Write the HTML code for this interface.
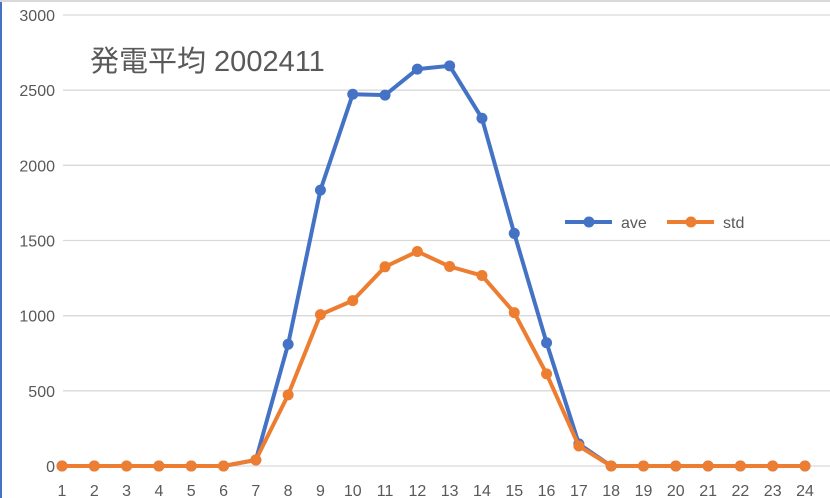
<!DOCTYPE html>
<html><head><meta charset="utf-8"><style>
html,body{margin:0;padding:0;background:#fff;}
svg{display:block;font-family:"Liberation Sans","Noto Sans CJK JP",sans-serif;}
</style></head><body>
<svg id="c" width="830" height="498">
<rect x="0" y="0" width="830" height="498" fill="#fff"/>
<rect x="0" y="0" width="2" height="498" fill="#4472c4"/>
<rect x="0" y="0" width="830" height="2" fill="#d9d9d9"/>
<text x="90" y="71" font-size="29" fill="#595959">発電平均 2002411</text>
<g id="grid"></g><g id="series"></g>
<g>
<line x1="565" y1="222" x2="612" y2="222" stroke="#4472c4" stroke-width="4"/>
<circle cx="589" cy="222" r="5.5" fill="#4472c4"/>
<text x="621" y="228" font-size="16" fill="#595959">ave</text>
<line x1="667" y1="222" x2="714" y2="222" stroke="#ed7d31" stroke-width="4"/>
<circle cx="691" cy="222" r="5.5" fill="#ed7d31"/>
<text x="723" y="228" font-size="16" fill="#595959">std</text>
</g>
</svg>
<script>
const categories=[1,2,3,4,5,6,7,8,9,10,11,12,13,14,15,16,17,18,19,20,21,22,23,24];
const aveValues=[0,0,0,0,0,0,40,810,1835,2473,2467,2640,2662,2313,1547,820,147,0,0,0,0,0,0,0];
const stdValues=[0,0,0,0,0,0,40,473,1007,1100,1325,1427,1327,1267,1020,613,133,0,0,0,0,0,0,0];
const yTicks=[0,500,1000,1500,2000,2500,3000];
const NS="http://www.w3.org/2000/svg";
function X(i){return 62+i*(805-62)/23;}
function Y(v){return 466-v*(451/3000);}
function mk(t,a,p){const e=document.createElementNS(NS,t);for(const k in a)e.setAttribute(k,a[k]);p.appendChild(e);return e;}
const grid=document.getElementById('grid');
yTicks.forEach(v=>{
 const l=mk('line',{x1:63,x2:830,y1:Y(v),y2:Y(v),stroke:'#d9d9d9','stroke-width':1.3},grid);
 
 
 const t=mk('text',{x:55,y:Y(v)+6,'text-anchor':'end','font-size':16,fill:'#595959'},grid);
 t.textContent=v;
 
 
});
categories.forEach((c,i)=>{
 const t=mk('text',{x:X(i),y:496,'text-anchor':'middle','font-size':16,fill:'#595959'},grid);
 t.textContent=c;
 
 
});
const sg=document.getElementById('series');
[['ave',aveValues,'#4472c4'],['std',stdValues,'#ed7d31']].forEach(([n,vals,col])=>{
 const g=mk('g',{},sg);
 
 
 const p=mk('polyline',{points:vals.map((v,i)=>X(i)+','+Y(v)).join(' '),fill:'none',stroke:col,'stroke-width':4,'stroke-linejoin':'round'},g);
 
 
 vals.forEach((v,i)=>{
  const c=mk('circle',{cx:X(i),cy:Y(v),r:5.5,fill:col},g);
  
  
 });
});
</script>
</body></html>
